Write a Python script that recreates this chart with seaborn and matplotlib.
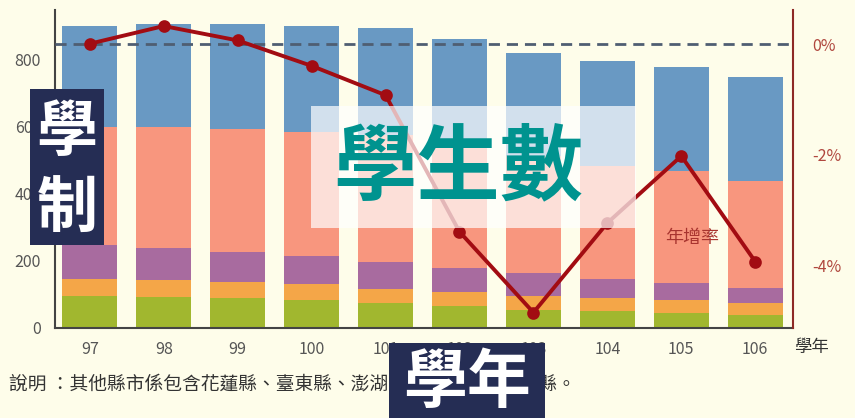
import numpy as np
import pandas as pd
import matplotlib
matplotlib.use('Agg')
import matplotlib.pyplot as plt
from matplotlib.patches import Rectangle
import seaborn as sns

# school years (ROC calendar)
years = ['97', '98', '99', '100', '101', '102', '103', '104', '105', '106']

# students per stacked segment (bottom -> top)
green = [95, 92, 89, 84, 74, 66, 55, 50, 45, 40]
orange = [51, 50, 49, 46, 42, 41, 40, 39, 38, 34]
purple = [102, 96, 88, 84, 80, 72, 69, 57, 51, 46]
salmon = [352, 362, 368, 371, 379, 369, 348, 338, 335, 319]
blue = [301, 306, 313, 315, 321, 315, 309, 313, 310, 310]

# yearly growth rate (%)
growth = [0.01, 0.33, 0.07, -0.39, -0.92, -3.39, -4.85, -3.23, -2.02, -3.93]

left_ticks = [0, 200, 400, 600, 800]
right_ticks = [0, -2, -4]
right_labels = ['0%', '-2%', '-4%']

note = '說明 ：其他縣市係包含花蓮縣、臺東縣、澎湖縣、金門縣及連江縣。'

bg = '#fefdea'
navy = '#252d54'
line_red = '#a20c12'

sns.set_style('white')
plt.rcParams['font.family'] = ['Noto Sans CJK TC', 'DejaVu Sans']

W, H = 855, 418
fig = plt.figure(figsize=(W / 100, H / 100), dpi=100, facecolor=bg)
ax = fig.add_axes([55 / W, 1 - 328 / H, (793 - 55) / W, (328 - 10) / H])
ax.set_facecolor(bg)

df = pd.DataFrame({'year': years, 'green': green, 'orange': orange,
                   'purple': purple, 'salmon': salmon, 'blue': blue})
layers = [('green', '#a1b72f'), ('orange', '#f4a648'), ('purple', '#a86b9f'),
          ('salmon', '#f8967e'), ('blue', '#6999c3')]
cum = df[[n for n, _ in layers]].cumsum(axis=1)

# draw tallest cumulative bar first, then cover with the lower ones
for name, col in reversed(layers):
    sns.barplot(x=df['year'], y=cum[name], color=col, saturation=1,
                width=0.74, errorbar=None, linewidth=0, ax=ax)

ax.set_ylim(0, 949)
ax.set_yticks(left_ticks)
ax.set_xlabel('')
ax.set_ylabel('')
ax.tick_params(axis='both', length=0, labelsize=11.5, labelcolor='#555555')
ax.tick_params(axis='y', pad=10)
ax.tick_params(axis='x', pad=9)
for s in ['top', 'right']:
    ax.spines[s].set_visible(False)
for s in ['left', 'bottom']:
    ax.spines[s].set_color('#444444')
    ax.spines[s].set_linewidth(1.5)

# growth rate on the right axis
ax2 = ax.twinx()
ax2.axhline(0, color='#4f5e72', lw=2, ls=(0, (4, 2.5)), zorder=1)
sns.pointplot(x=years, y=growth, color=line_red, markers='o',
              linewidth=2.8, markersize=7, errorbar=None, ax=ax2)
ax2.set_ylim(-5.13, 0.62)
ax2.set_yticks(right_ticks)
ax2.set_yticklabels(right_labels)
ax2.set_ylabel('')
ax2.tick_params(axis='y', length=0, labelsize=11.5, labelcolor='#b0473e', pad=14)
for s in ['top', 'left', 'bottom']:
    ax2.spines[s].set_visible(False)
ax2.spines['right'].set_color('#8e2a26')
ax2.spines['right'].set_linewidth(1.5)
ax.set_xlim(-0.47, 9.51)


def fx(x):
    return x / W


def fy(y):
    return 1 - y / H


fig.text(fx(811), fy(347), '學年', ha='center', va='center',
         fontsize=12.5, color='#333333')
fig.text(fx(692), fy(238), '年增率', ha='center', va='center',
         fontsize=13, color='#a8342f')
fig.text(fx(9), fy(385), note, ha='left', va='center',
         fontsize=13.5, color='#333333')

# overlay labels
fig.add_artist(Rectangle((fx(311), fy(228)), (636 - 311) / W, (228 - 106) / H,
                         transform=fig.transFigure, facecolor='white',
                         alpha=0.7, edgecolor='none', zorder=5))
fig.text(fx(458), fy(169), '學生數', ha='center', va='center', fontsize=60,
         fontweight='bold', color='#00938f', zorder=6)

fig.add_artist(Rectangle((fx(30), fy(245)), (104 - 30) / W, (245 - 89) / H,
                         transform=fig.transFigure, facecolor=navy,
                         edgecolor='none', zorder=5))
fig.text(fx(67), fy(133), '學', ha='center', va='center', fontsize=44,
         fontweight='bold', color='white', zorder=6)
fig.text(fx(67), fy(210), '制', ha='center', va='center', fontsize=44,
         fontweight='bold', color='white', zorder=6)

fig.add_artist(Rectangle((fx(389), fy(418)), (545 - 389) / W, (418 - 343) / H,
                         transform=fig.transFigure, facecolor=navy,
                         edgecolor='none', zorder=5))
fig.text(fx(467), fy(383), '學年', ha='center', va='center', fontsize=46,
         fontweight='bold', color='white', zorder=6)

fig.savefig('out.png', dpi=100, facecolor=bg)
